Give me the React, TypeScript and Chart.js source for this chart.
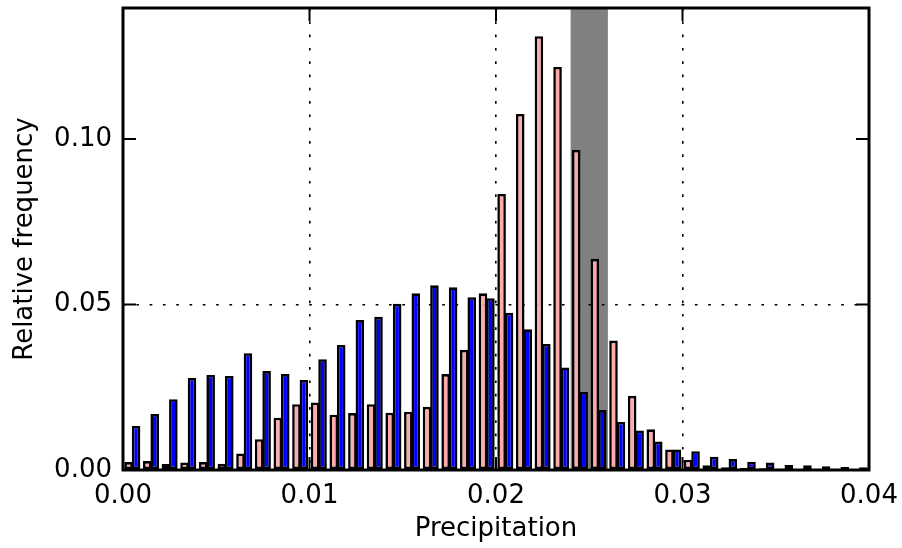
import React, { useEffect, useRef } from "react";
import { Chart, registerables } from "chart.js";

Chart.register(...registerables);

// Bin centres (bin width 0.001)
const binCenters = [
  0.0005, 0.0015, 0.0025, 0.0035, 0.0045, 0.0055, 0.0065, 0.0075, 0.0085, 0.0095,
  0.0105, 0.0115, 0.0125, 0.0135, 0.0145, 0.0155, 0.0165, 0.0175, 0.0185, 0.0195,
  0.0205, 0.0215, 0.0225, 0.0235, 0.0245, 0.0255, 0.0265, 0.0275, 0.0285, 0.0295,
  0.0305, 0.0315, 0.0325, 0.0335, 0.0345, 0.0355, 0.0365, 0.0375, 0.0385, 0.0395,
];

const pinkValues = [
  0.0024, 0.0027, 0.0018, 0.0023, 0.0024, 0.0019, 0.005, 0.0093, 0.0158, 0.0199,
  0.0204, 0.0167, 0.0172, 0.0199, 0.0173, 0.0176, 0.0191, 0.029, 0.0363, 0.0534,
  0.0834, 0.1076, 0.1311, 0.1218, 0.0967, 0.0638, 0.0391, 0.0224, 0.0123, 0.0062,
  0.0031, 0.0014, 0.0008, 0.0006, 0.0005, 0.0004, 0.0003, 0.0002, 0.0002, 0.0001,
];

const blueValues = [
  0.0133, 0.0169, 0.0214, 0.0278, 0.0287, 0.0284, 0.0353, 0.0299, 0.029, 0.0272,
  0.0335, 0.0378, 0.0453, 0.0463, 0.0502, 0.0534, 0.0558, 0.0552, 0.0522, 0.0519,
  0.0475, 0.0425, 0.0381, 0.031, 0.0236, 0.0181, 0.0145, 0.0119, 0.0086, 0.0062,
  0.0057, 0.004, 0.0033, 0.0025, 0.0023, 0.0015, 0.0014, 0.0011, 0.0009, 0.0008,
];

const xTickValues = [0, 0.01, 0.02, 0.03, 0.04];
const yTickValues = [0, 0.05, 0.1];
const xRange = [0, 0.04];
const yRange = [0, 0.1396];
const shadeRange = [0.024, 0.026];

const FONT = "'DejaVu Sans', sans-serif";

export default function App() {
  const ref = useRef<HTMLCanvasElement>(null);

  useEffect(() => {
    if (!ref.current) return;

    const shadePlugin = {
      id: "shade",
      beforeDraw(chart: any) {
        const { ctx, chartArea, scales } = chart;
        const x0 = scales.x.getPixelForValue(shadeRange[0]);
        const x1 = scales.x.getPixelForValue(shadeRange[1]);
        ctx.save();
        ctx.fillStyle = "#808080";
        ctx.fillRect(x0, chartArea.top, x1 - x0, chartArea.bottom - chartArea.top);
        ctx.restore();
      },
    };

    const framePlugin = {
      id: "frame",
      afterDraw(chart: any) {
        const { ctx, chartArea, scales } = chart;
        const { left, right, top, bottom } = chartArea;
        const L = 13;
        ctx.save();
        ctx.strokeStyle = "#000";
        ctx.lineWidth = 2;
        ctx.beginPath();
        xTickValues.forEach((v) => {
          const px = scales.x.getPixelForValue(v);
          ctx.moveTo(px, bottom);
          ctx.lineTo(px, bottom - L);
          ctx.moveTo(px, top);
          ctx.lineTo(px, top + L);
        });
        yTickValues.forEach((v) => {
          const py = scales.y.getPixelForValue(v);
          ctx.moveTo(left, py);
          ctx.lineTo(left + L, py);
          ctx.moveTo(right, py);
          ctx.lineTo(right - L, py);
        });
        ctx.stroke();
        ctx.lineWidth = 3;
        ctx.strokeRect(left, top, right - left, bottom - top);
        ctx.restore();
      },
    };

    const gridColor = (ctx: any) => {
      const n = ctx.scale.ticks.length;
      return ctx.index === 0 || ctx.index === n - 1 ? "rgba(0,0,0,0)" : "#000";
    };

    const chart = new Chart(ref.current, {
      type: "bar",
      data: {
        datasets: [
          {
            label: "pink",
            data: binCenters.map((x, i) => ({ x, y: pinkValues[i] })),
            backgroundColor: "#ffaaaa",
            borderColor: "#000",
            borderWidth: 2.6,
            borderSkipped: false,
            categoryPercentage: 0.8,
            barPercentage: 1.15,
          },
          {
            label: "blue",
            data: binCenters.map((x, i) => ({ x, y: blueValues[i] })),
            backgroundColor: "#0000ff",
            borderColor: "#000",
            borderWidth: 2.6,
            borderSkipped: false,
            categoryPercentage: 0.8,
            barPercentage: 1.15,
          },
        ],
      } as any,
      options: {
        animation: false,
        responsive: false,
        devicePixelRatio: 1,
        layout: { padding: { left: 0, top: 8, right: 33, bottom: 0 } },
        plugins: {
          legend: { display: false },
          tooltip: { enabled: false },
        },
        scales: {
          x: {
            type: "linear",
            min: xRange[0],
            max: xRange[1],
            offset: false,
            afterBuildTicks: (s: any) => {
              s.ticks = xTickValues.map((v) => ({ value: v }));
            },
            afterFit: (s: any) => {
              s.height = 78;
              s.paddingLeft = 0;
              s.paddingRight = 0;
            },
            grid: { color: gridColor, lineWidth: 1.6, drawTicks: false, offset: false },
            border: { display: false, dash: [2.7, 10.6] },
            ticks: {
              padding: 11,
              color: "#000",
              font: { family: FONT, size: 26 },
              maxRotation: 0,
              autoSkip: false,
              callback: (v: any) => Number(v).toFixed(2),
            },
            title: {
              display: true,
              text: "Precipitation",
              color: "#000",
              font: { family: FONT, size: 26 },
              padding: { top: 0, bottom: 3 },
            },
          },
          y: {
            type: "linear",
            min: yRange[0],
            max: yRange[1],
            afterBuildTicks: (s: any) => {
              s.ticks = yTickValues.map((v) => ({ value: v }));
            },
            afterFit: (s: any) => {
              s.width = 123;
              s.paddingTop = 0;
              s.paddingBottom = 0;
            },
            grid: { color: gridColor, lineWidth: 1.6, drawTicks: false },
            border: { display: false, dash: [2.7, 10.6] },
            ticks: {
              padding: 11,
              color: "#000",
              font: { family: FONT, size: 26 },
              callback: (v: any) => Number(v).toFixed(2),
            },
            title: {
              display: true,
              text: "Relative frequency",
              color: "#000",
              font: { family: FONT, size: 26 },
              padding: { top: 10, bottom: 0 },
            },
          },
        },
      } as any,
      plugins: [shadePlugin, framePlugin],
    });

    return () => chart.destroy();
  }, []);

  return (
    <div style={{ position: "fixed", left: 0, top: 0, width: 902, height: 548, background: "#fff" }}>
      <canvas ref={ref} width={902} height={548} style={{ display: "block", width: 902, height: 548 }} />
    </div>
  );
}
